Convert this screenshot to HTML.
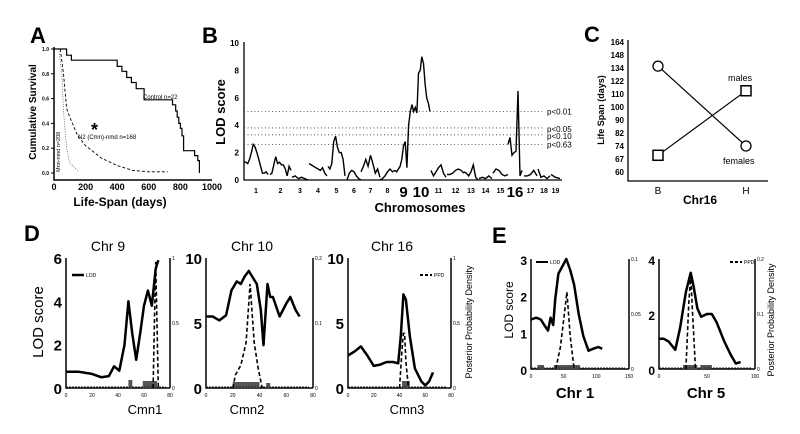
<!DOCTYPE html>
<html><head><meta charset="utf-8"><style>
html,body{margin:0;padding:0;background:#fff}
svg{display:block;font-family:"Liberation Sans",Arial,sans-serif}
</style></head><body>
<svg id="fig" width="800" height="434" viewBox="0 0 800 434">
<g id="static" fill="#000">
<text x="30" y="43" font-size="22" font-weight="bold">A</text>
<text x="202" y="43" font-size="22" font-weight="bold">B</text>
<text x="584" y="42" font-size="22" font-weight="bold">C</text>
<text x="24" y="241" font-size="22" font-weight="bold">D</text>
<text x="492" y="243" font-size="22" font-weight="bold">E</text>
<text x="120" y="206" font-size="12" font-weight="bold" text-anchor="middle">Life-Span (days)</text>
<text transform="translate(36,112) rotate(-90)" font-size="10" font-weight="bold" text-anchor="middle">Cumulative Survival</text>
<text x="143" y="99" font-size="6">Control n=22</text>
<text x="78" y="139" font-size="6">N2 (Cmn)-nmd n=168</text>
<text transform="translate(60,172) rotate(-90)" font-size="5.5">Mnn-nmd n=208</text>
<text x="91" y="136" font-size="18" font-weight="bold">*</text>
<text x="420" y="212" font-size="13" font-weight="bold" text-anchor="middle">Chromosomes</text>
<text transform="translate(225,112) rotate(-90)" font-size="13" font-weight="bold" text-anchor="middle">LOD score</text>
<text x="700" y="204" font-size="12" font-weight="bold" text-anchor="middle">Chr16</text>
<text transform="translate(604,110) rotate(-90)" font-size="9" font-weight="bold" text-anchor="middle">Life Span (days)</text>
<text x="728" y="81" font-size="9">males</text>
<text x="723" y="164" font-size="9">females</text>
<text x="658" y="194" font-size="10" text-anchor="middle">B</text>
<text x="746" y="194" font-size="10" text-anchor="middle">H</text>
<text transform="translate(43,322) rotate(-90)" font-size="15" text-anchor="middle">LOD score</text>
<text transform="translate(472,322) rotate(-90)" font-size="9" text-anchor="middle">Posterior Probability Density</text>
<text x="108" y="251" font-size="14" text-anchor="middle">Chr 9</text>
<text x="252" y="251" font-size="14" text-anchor="middle">Chr 10</text>
<text x="392" y="251" font-size="14" text-anchor="middle">Chr 16</text>
<text x="145" y="414" font-size="13" text-anchor="middle">Cmn1</text>
<text x="247" y="414" font-size="13" text-anchor="middle">Cmn2</text>
<text x="407" y="414" font-size="13" text-anchor="middle">Cmn3</text>
<text transform="translate(513,310) rotate(-90)" font-size="12" text-anchor="middle">LOD score</text>
<text transform="translate(774,320) rotate(-90)" font-size="9" text-anchor="middle">Posterior Probability Density</text>
<text x="575" y="398" font-size="15" font-weight="bold" text-anchor="middle">Chr 1</text>
<text x="706" y="398" font-size="15" font-weight="bold" text-anchor="middle">Chr 5</text>
</g>
</svg>
<script>
// ---------- Panel A data ----------
const ctrlDays=[0,80,110,400,430,460,490,520,570,750,770,780,790,800,810,820,890,910,920];
const ctrlSurv=[1,0.95,0.91,0.86,0.82,0.77,0.73,0.68,0.59,0.55,0.5,0.45,0.4,0.36,0.3,0.18,0.14,0.1,0];
const n2Days=[40,60,80,100,150,200,300,400,500,600,720];
const n2Surv=[1,0.8,0.52,0.45,0.3,0.22,0.12,0.06,0.02,0.01,0.01];
const mnnDays=[30,50,60,80,100,150];
const mnnSurv=[1,0.8,0.5,0.2,0.08,0.02];
const aXTicks=[0,200,400,600,800,1000];
const aYTicks=[0,0.2,0.4,0.6,0.8,1.0];
// ---------- Panel B data ----------
const chrNames=["1","2","3","4","5","6","7","8","9","10","11","12","13","14","15","16","17","18","19"];
const chrStart=[0,26,48,65,84,103,117,136,151,168,187,203,220,235,249,264,280,294,307];
const chrEnd=[24,47,64,83,101,117,136,151,168,186,202,220,234,248,264,278,293,306,316];
const chrLod=[
[1.3,1.3,1.2,1.5,2.0,2.6,2.4,2.0,1.5,1.0,0.5,0.5,0.6,0.4],
[0.4,0.5,1.1,1.7,1.2,1.3,1.1,1.1,0.8,0.3,1.0,0.7],
[0.2,0.3,0.1,0.2,0.1,0],
[1.2,1.1,1.0,0.9,0.8,0.7,0.9,0.5,0.3],
[1.0,0.8,1.2,2.8,3.2,2.4,2.0,2.0,1.5,0.3],
[0,0.5,0.7,0.6,0.3,0.1,0],
[0.6,1.0,1.5,1.0,1.8,1.2,0.5,0.8,0.2],
[0,0.1,0.3,0.6,0.8,0.6,0.7],
[0.7,0.6,0.8,1.0,1.5,2.5,2.8,0.9,4.0,5.0,5.5],
[5.5,5.0,5.3,4.9,7.8,8.0,9.0,8.5,7.0,6.0,5.6,5.0],
[0.7,0.3,0.6,0.9,1.1,0.5,0.2],
[0.4,0.4,0.5,0.7,0.8,0.7,0.5],
[0.6,0.5,0.3,0.6,1.1,0.2,0],
[0.1,0.2,0.1,0.3,0.1],
[0.5,0.8,0.7,0.4,0.3,0.4],
[2.6,3.1,1.8,2.0,2.1,6.5,0.3,0.7],
[0.3,0.3,0.4,0.7,0.3],
[0.8,0.2,0.3,0.1,0.3],
[0.4,0.2,0.1]];
const thrVals=[5.0,3.8,3.3,2.6];
const thrLabels=["p<0.01","p<0.05","p<0.10","p<0.63"];
const bYTicks=[0,2,4,6,8,10];
// ---------- Panel C data ----------
const cTicks=[60,67,74,82,90,100,110,122,134,148,164];
const cGroups=["B","H"];
const femaleVals=[136,74];
const maleVals=[69,113];
// ---------- Panel D data ----------
const d9X=[0,10,20,27,33,37,41,45,48,51,54,57,60,63,66,69,71];
const d9Lod=[0.75,0.75,0.65,0.5,0.55,1.0,0.8,2.0,4.0,2.5,1.3,2.5,3.8,4.5,3.8,5.5,5.9];
const d9PX=[67,68,69,70,71];
const d9P=[0,0.5,0.97,0.5,0];
const d10X=[0,5,10,15,19,23,26,29,32,35,38,41,43,46,48,50,55,60,63,67,70];
const d10Lod=[5.5,5.5,5.2,5.6,7.5,8.2,8.0,8.6,9.0,8.5,8.0,6.0,3.3,8.0,7.0,7.0,5.5,6.5,7.0,6.0,5.5];
const d10PX=[20,22,26,30,33,36,39,42];
const d10P=[0,0.02,0.035,0.07,0.16,0.07,0.03,0];
const d16X=[0,5,10,15,20,25,30,35,39,41,43,45,48,52,57,60,63,66];
const d16Lod=[2.5,2.8,3.2,2.5,1.7,1.8,2.0,2.0,1.9,4.0,7.2,6.8,4.0,1.5,0.5,0.2,0.5,1.2];
const d16PX=[40,42,43,44,45,47];
const d16P=[0,0.3,0.42,0.42,0.2,0];
// ---------- Panel E data ----------
const e1X=[0,8,15,22,26,30,34,37,42,48,54,60,66,73,80,88,95,103,109];
const e1Lod=[1.35,1.4,1.35,1.15,1.05,1.4,1.2,1.9,2.6,2.8,3.0,2.7,2.3,1.5,0.9,0.5,0.55,0.6,0.55];
const e1PX=[38,45,50,55,60,66];
const e1P=[0,0.02,0.045,0.07,0.03,0];
const e5X=[0,5,10,17,22,28,33,36,40,44,50,55,60,68,75,80,85];
const e5Lod=[1.1,1.1,1.0,0.7,1.5,2.8,3.5,3.0,2.2,1.9,2.0,2.0,1.7,1.0,0.5,0.2,0.25];
const e5PX=[28,31,33,35,38];
const e5P=[0,0.12,0.17,0.1,0];

const svg=document.getElementById('fig');
const NS='http://www.w3.org/2000/svg';
function mk(tag,attrs,name,parent){
  const el=document.createElementNS(NS,tag);
  for(const k in attrs) el.setAttribute(k,attrs[k]);
  
  
  (parent||svg).appendChild(el);return el;
}
function txt(x,y,s,size,anchor,name,extra){
  const t=mk('text',Object.assign({x:x,y:y,'font-size':size,'text-anchor':anchor||'middle'},extra||{}),name);
  t.textContent=s;return t;
}
function lin(d0,d1,r0,r1){return v=>r0+(v-d0)*(r1-r0)/(d1-d0);}
function pathOf(xs,ys,sx,sy){return xs.map((x,i)=>(i?'L':'M')+sx(x).toFixed(1)+','+sy(ys[i]).toFixed(1)).join('');}

// ===== Panel A =====
{const sx=lin(0,1000,54,212), sy=lin(0,1,173,49);
mk('path',{d:'M54,47V180H212',fill:'none',stroke:'#000','stroke-width':1.5},'a-axes');
aXTicks.forEach(v=>{txt(sx(v),190,String(v),9,'middle','a-x-tick',{'font-weight':'bold'});});
aYTicks.forEach(v=>{mk('line',{x1:51,x2:54,y1:sy(v),y2:sy(v),stroke:'#000'},'a-y-tick-mark');
 txt(49,sy(v)+2,v.toFixed(1),5,'end','a-y-tick',{'font-weight':'bold'});});
let d='M'+sx(ctrlDays[0])+','+sy(ctrlSurv[0]);
for(let i=1;i<ctrlDays.length;i++){d+='H'+sx(ctrlDays[i]).toFixed(1)+'V'+sy(ctrlSurv[i]).toFixed(1);}
mk('path',{d:d,fill:'none',stroke:'#000','stroke-width':1.2},'control-curve');
mk('path',{d:pathOf(n2Days,n2Surv,sx,sy),fill:'none',stroke:'#000','stroke-width':0.9,'stroke-dasharray':'3,2'},'n2-curve');
mk('path',{d:pathOf(mnnDays,mnnSurv,sx,sy),fill:'none',stroke:'#444','stroke-width':0.7,'stroke-dasharray':'1,1.5'},'mnn-curve');}

// ===== Panel B =====
{const sx=lin(0,316,244,560), sy=lin(0,10,180,43);
mk('path',{d:'M244,42V180H562',fill:'none',stroke:'#000','stroke-width':1.3},'b-axes');
bYTicks.forEach(v=>{txt(239,sy(v)+3,String(v),8,'end','b-y-tick',{'font-weight':'bold'});});
thrVals.forEach((v,i)=>{mk('line',{x1:244,x2:545,y1:sy(v),y2:sy(v),stroke:'#333','stroke-width':0.8,'stroke-dasharray':'1,2.5'},'threshold-line');
 txt(547,sy(v)+3-(i==1?-1:0)+(i==2?1:0),thrLabels[i],8,'start','threshold-label');});
chrNames.forEach((n,i)=>{const vals=chrLod[i];
 const xs=vals.map((_,j)=>chrStart[i]+j*(chrEnd[i]-chrStart[i])/(vals.length-1));
 mk('path',{d:pathOf(xs,vals,sx,sy),fill:'none',stroke:'#000','stroke-width':1.4},'lod-chr-'+n);
 const big=(n==='9'||n==='10'||n==='16');
 txt(sx((chrStart[i]+chrEnd[i])/2),big?197:193,n,big?15:7,'middle','chr-tick',{'font-weight':'bold'});});}

// ===== Panel C =====
{const yPos=v=>{for(let i=0;i<cTicks.length-1;i++){if(v<=cTicks[i+1])return lin(cTicks[i],cTicks[i+1],172-i*13,172-(i+1)*13)(v);}return 42;};
const xg=[658,746];
mk('path',{d:'M628,40V181H768',fill:'none',stroke:'#000','stroke-width':1.3},'c-axes');
cTicks.forEach((v,i)=>{txt(624,172-i*13+3,String(v),8,'end','c-y-tick',{'font-weight':'bold'});});
mk('path',{d:pathOf(xg,femaleVals,x=>x,yPos),fill:'none',stroke:'#000','stroke-width':1.2},'females-line');
mk('path',{d:pathOf(xg,maleVals,x=>x,yPos),fill:'none',stroke:'#000','stroke-width':1.2},'males-line');
femaleVals.forEach((v,i)=>mk('circle',{cx:xg[i],cy:yPos(v),r:5,fill:'#fff',stroke:'#000','stroke-width':1.3},'female-point'));
maleVals.forEach((v,i)=>mk('rect',{x:xg[i]-5,y:yPos(v)-5,width:10,height:10,fill:'#fff',stroke:'#000','stroke-width':1.5},'male-point'));}

// ===== Panels D & E helper =====
function qtl(o){
 const sx=lin(o.x0,o.x1,o.L,o.R), sy=lin(0,o.ymax,o.B,o.T), sp=lin(0,o.pmax,o.B,o.T);
 mk('path',{d:'M'+o.L+','+o.T+'V'+o.B+'H'+o.R,fill:'none',stroke:'#000','stroke-width':1.5},o.id+'-axes');
 mk('line',{x1:o.R,x2:o.R,y1:o.T,y2:o.B,stroke:'#000','stroke-width':1.5},o.id+'-right-axis');
 o.yt.forEach(v=>txt(o.L-4,sy(v)+6,String(v),o.yfs,'end',o.id+'-y-tick',{'font-weight':'bold'}));
 o.pt.forEach(v=>txt(o.R+2,sp(v)+2,String(v),5,'start',o.id+'-y2-tick'));
 o.xt.forEach(v=>txt(sx(v),o.B+9,String(v),5,'middle',o.id+'-x-tick'));
 o.boxes.forEach(b=>mk('rect',{x:sx(b[0]),y:o.B-b[2],width:sx(b[1])-sx(b[0]),height:b[2],fill:'#555'},o.id+'-ci-box'));
 mk('line',{x1:o.L,x2:o.R-4,y1:o.B-1,y2:o.B-1,stroke:'#222','stroke-width':1,'stroke-dasharray':'2,1'},o.id+'-baseline');
 mk('path',{d:pathOf(o.px,o.p,sx,sp),fill:'none',stroke:'#000','stroke-width':1.6,'stroke-dasharray':'4,2.5'},o.id+'-ppd-curve');
 mk('path',{d:pathOf(o.lx,o.ly,sx,sy),fill:'none',stroke:'#000','stroke-width':o.lw,'stroke-linejoin':'round'},o.id+'-lod-curve');
}
qtl({id:'chr9',L:66,R:170,T:258,B:388,x0:0,x1:80,ymax:6,pmax:1,yt:[0,2,4,6],pt:[0,0.5,1],xt:[0,20,40,60,80],yfs:15,lx:d9X,ly:d9Lod,px:d9PX,p:d9P,lw:2.5,boxes:[[48,51,8],[59,70,7]]});
qtl({id:'chr10',L:206,R:313,T:258,B:388,x0:0,x1:80,ymax:10,pmax:0.2,yt:[0,5,10],pt:[0,0.1,0.2],xt:[0,20,40,60,80],yfs:15,lx:d10X,ly:d10Lod,px:d10PX,p:d10P,lw:2.5,boxes:[[20,40,6],[45,48,5]]});
qtl({id:'chr16',L:348,R:451,T:258,B:388,x0:0,x1:80,ymax:10,pmax:1,yt:[0,5,10],pt:[0,0.5,1],xt:[0,20,40,60,80],yfs:15,lx:d16X,ly:d16Lod,px:d16PX,p:d16P,lw:2.5,boxes:[[42,48,7]]});
qtl({id:'chr1',L:531,R:629,T:259,B:369,x0:0,x1:150,ymax:3,pmax:0.1,yt:[0,1,2,3],pt:[0,0.05,0.1],xt:[0,50,100,150],yfs:12,lx:e1X,ly:e1Lod,px:e1PX,p:e1P,lw:2.5,boxes:[[10,20,4],[35,75,4]]});
qtl({id:'chr5',L:659,R:755,T:259,B:369,x0:0,x1:100,ymax:4,pmax:0.2,yt:[0,2,4],pt:[0,0.1,0.2],xt:[0,50,100],yfs:12,lx:e5X,ly:e5Lod,px:e5PX,p:e5P,lw:2.5,boxes:[[25,40,4],[43,55,4]]});
// legends
mk('line',{x1:72,x2:84,y1:275,y2:275,stroke:'#000','stroke-width':2.5},'lod-legend-swatch');
txt(86,277,'LOD',5,'start','lod-legend-label');
mk('line',{x1:420,x2:432,y1:275,y2:275,stroke:'#000','stroke-width':2,'stroke-dasharray':'3,2'},'ppd-legend-swatch');
txt(434,277,'PPD',5,'start','ppd-legend-label');
mk('line',{x1:536,x2:548,y1:262,y2:262,stroke:'#000','stroke-width':2},'e-lod-legend-swatch');
txt(550,264,'LOD',5,'start','e-lod-legend-label');
mk('line',{x1:730,x2:742,y1:262,y2:262,stroke:'#000','stroke-width':2,'stroke-dasharray':'3,2'},'e-ppd-legend-swatch');
txt(744,264,'PPD',5,'start','e-ppd-legend-label');
</script>
</body></html>
